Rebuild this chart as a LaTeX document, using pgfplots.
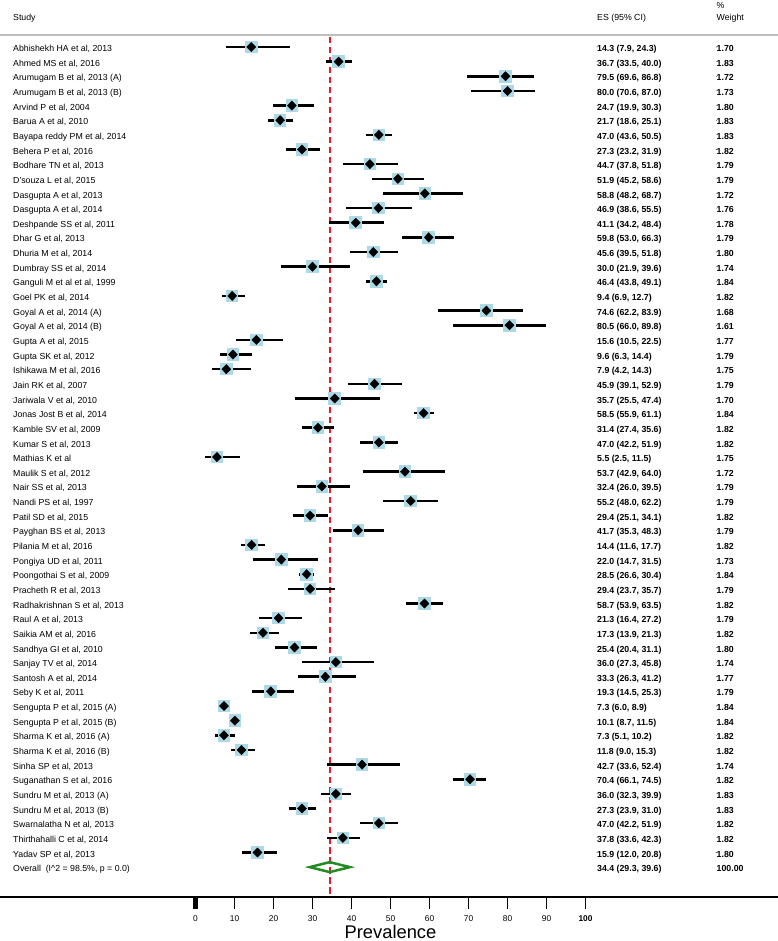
\documentclass[border=0pt]{standalone}
\usepackage{pgfplots}
\usepackage{pgfplotstable}
\pgfplotsset{compat=1.18}
\usepackage{fontspec}
\setmainfont{Liberation Sans}
\definecolor{boxblue}{RGB}{173,216,230}
\definecolor{refred}{RGB}{232,28,36}
\definecolor{ovgreen}{RGB}{34,139,34}
\newcommand{\txt}{\fontsize{8.8}{10}\selectfont}

\pgfplotstableread[col sep=semicolon]{
row;es;lo;hi;w;study
1;14.3;7.9;24.3;1.70;Abhishekh HA et al, 2013
2;36.7;33.5;40.0;1.83;Ahmed MS et al, 2016
3;79.5;69.6;86.8;1.72;Arumugam B et al, 2013 (A)
4;80.0;70.6;87.0;1.73;Arumugam B et al, 2013 (B)
5;24.7;19.9;30.3;1.80;Arvind P et al, 2004
6;21.7;18.6;25.1;1.83;Barua A et al, 2010
7;47.0;43.6;50.5;1.83;Bayapa reddy PM et al, 2014
8;27.3;23.2;31.9;1.82;Behera P et al, 2016
9;44.7;37.8;51.8;1.79;Bodhare TN et al, 2013
10;51.9;45.2;58.6;1.79;D'souza L et al, 2015
11;58.8;48.2;68.7;1.72;Dasgupta A et al, 2013
12;46.9;38.6;55.5;1.76;Dasgupta A et al, 2014
13;41.1;34.2;48.4;1.78;Deshpande SS et al, 2011
14;59.8;53.0;66.3;1.79;Dhar G et al, 2013
15;45.6;39.5;51.8;1.80;Dhuria M et al, 2014
16;30.0;21.9;39.6;1.74;Dumbray SS et al, 2014
17;46.4;43.8;49.1;1.84;Ganguli M et al et al, 1999
18;9.4;6.9;12.7;1.82;Goel PK et al, 2014
19;74.6;62.2;83.9;1.68;Goyal A et al, 2014 (A)
20;80.5;66.0;89.8;1.61;Goyal A et al, 2014 (B)
21;15.6;10.5;22.5;1.77;Gupta A et al, 2015
22;9.6;6.3;14.4;1.79;Gupta SK et al, 2012
23;7.9;4.2;14.3;1.75;Ishikawa M et al, 2016
24;45.9;39.1;52.9;1.79;Jain RK et al, 2007
25;35.7;25.5;47.4;1.70;Jariwala V et al, 2010
26;58.5;55.9;61.1;1.84;Jonas Jost B et al, 2014
27;31.4;27.4;35.6;1.82;Kamble SV et al, 2009
28;47.0;42.2;51.9;1.82;Kumar S et al, 2013
29;5.5;2.5;11.5;1.75;Mathias K et al
30;53.7;42.9;64.0;1.72;Maulik S et al, 2012
31;32.4;26.0;39.5;1.79;Nair SS et al, 2013
32;55.2;48.0;62.2;1.79;Nandi PS et al, 1997
33;29.4;25.1;34.1;1.82;Patil  SD et al, 2015
34;41.7;35.3;48.3;1.79;Payghan BS et al, 2013
35;14.4;11.6;17.7;1.82;Pilania M et al, 2016
36;22.0;14.7;31.5;1.73;Pongiya UD et al, 2011
37;28.5;26.6;30.4;1.84;Poongothai S et al, 2009
38;29.4;23.7;35.7;1.79;Pracheth R et al, 2013
39;58.7;53.9;63.5;1.82;Radhakrishnan S et al, 2013
40;21.3;16.4;27.2;1.79;Raul A et al, 2013
41;17.3;13.9;21.3;1.82;Saikia AM et al, 2016
42;25.4;20.4;31.1;1.80;Sandhya GI et al, 2010
43;36.0;27.3;45.8;1.74;Sanjay TV et al, 2014
44;33.3;26.3;41.2;1.77;Santosh A et al, 2014
45;19.3;14.5;25.3;1.79;Seby K et al, 2011
46;7.3;6.0;8.9;1.84;Sengupta P et al, 2015 (A)
47;10.1;8.7;11.5;1.84;Sengupta P et al, 2015 (B)
48;7.3;5.1;10.2;1.82;Sharma K et al, 2016 (A)
49;11.8;9.0;15.3;1.82;Sharma K et al, 2016 (B)
50;42.7;33.6;52.4;1.74;Sinha SP et al, 2013
51;70.4;66.1;74.5;1.82;Suganathan S et al, 2016
52;36.0;32.3;39.9;1.83;Sundru M et al, 2013 (A)
53;27.3;23.9;31.0;1.83;Sundru M et al, 2013 (B)
54;47.0;42.2;51.9;1.82;Swarnalatha N et al, 2013
55;37.8;33.6;42.3;1.82;Thirthahalli C et al, 2014
56;15.9;12.0;20.8;1.80;Yadav SP et al, 2013
}\studies

\begin{document}
\begin{tikzpicture}
\begin{axis}[
  scale only axis, width=778bp, height=897bp,
  xmin=-50.128, xmax=149.359, ymin=-59.04, ymax=2.2093,
  clip=false,
  axis x line=bottom, axis y line=none,
  axis line style={-, line width=2.2bp, black},
  xtick={10,20,...,100},
  xticklabels={10,20,30,40,50,60,70,80,90,\textbf{100}},
  extra x ticks={0}, extra x tick labels={0},
  extra x tick style={major tick style={line width=5.5bp, black}},
  tick align=outside, major tick length=12bp,
  major tick style={line width=1.8bp, black},
  xticklabel style={font=\fontsize{8.4}{9}\selectfont, text=black, yshift=-3bp},
  /pgf/number format/assume math mode=true,
]
% reference line
\addplot[refred, line width=2.2bp, dash pattern=on 6.5bp off 3.5bp] coordinates {(34.4,-0.317) (34.4,-59.04)};
% weight boxes
\addplot[only marks, draw=none, mark=square*, mark size=5.8bp, mark options={fill=boxblue, draw=boxblue, line width=0pt}]
  table[x=es, y expr=-\thisrow{row}] {\studies};
% confidence intervals (segments from lower to upper limit)
\addplot[black, line width=2.6bp, -, mark=none, quiver={u=\thisrow{hi}-\thisrow{lo}, v=0}]
  table[x=lo, y expr=-\thisrow{row}] {\studies};
% point estimates
\addplot[only marks, mark=diamond*, mark size=4.7bp, mark options={fill=black, draw=black, line width=0.3bp, xscale=1.3}]
  table[x=es, y expr=-\thisrow{row}] {\studies};
% study names
\addplot[only marks, mark=*, mark size=0.01bp, mark options={draw=none, fill=none},
  point meta=explicit symbolic, nodes near coords,
  nodes near coords style={anchor=base west, yshift=-4.6bp, inner sep=0pt, font=\txt, text=black}]
  table[x expr=-46.795, y expr=-\thisrow{row}, meta=study] {\studies};
% ES (95% CI)
\addplot[only marks, mark=*, mark size=0.01bp, mark options={draw=none, fill=none},
  visualization depends on={\thisrow{lo} \as \clo},
  visualization depends on={\thisrow{hi} \as \chi},
  point meta=\thisrow{es},
  nodes near coords={\pgfmathprintnumber{\pgfplotspointmeta} (\pgfmathprintnumber{\clo}, \pgfmathprintnumber{\chi})},
  nodes near coords style={anchor=base west, yshift=-4.6bp, inner sep=0pt, font=\txt\bfseries, text=black,
    /pgf/number format/fixed, /pgf/number format/fixed zerofill, /pgf/number format/precision=1}]
  table[x expr=102.95, y expr=-\thisrow{row}] {\studies};
% weights
\addplot[only marks, mark=*, mark size=0.01bp, mark options={draw=none, fill=none},
  point meta=\thisrow{w}, nodes near coords,
  nodes near coords style={anchor=base west, yshift=-4.6bp, inner sep=0pt, font=\txt\bfseries, text=black,
    /pgf/number format/fixed, /pgf/number format/fixed zerofill, /pgf/number format/precision=2}]
  table[x expr=133.59, y expr=-\thisrow{row}] {\studies};
% overall diamond
\addplot[ovgreen, line width=2.5bp, line join=miter] coordinates {(29.3,-57) (34.4,-56.659) (39.6,-57) (34.4,-57.341) (29.3,-57) (34.4,-56.659)};
% header
\draw[black!25, line width=2bp] (axis cs:-50.128,-0.1806) -- (axis cs:149.359,-0.1806);
\node[anchor=base west, inner sep=0pt, font=\txt] at (axis cs:-46.795,0.78) {Study};
\node[anchor=base west, inner sep=0pt, font=\txt] at (axis cs:102.95,0.78) {ES (95\% CI)};
\node[anchor=base west, inner sep=0pt, font=\txt] at (axis cs:133.59,1.62) {\%};
\node[anchor=base west, inner sep=0pt, font=\txt] at (axis cs:133.59,0.78) {Weight};
% overall row text
\node[anchor=base west, inner sep=0pt, yshift=-4.6bp, font=\txt] at (axis cs:-46.795,-57) {Overall\ \ (I\textasciicircum 2 = 98.5\%, p = 0.0)};
\node[anchor=base west, inner sep=0pt, yshift=-4.6bp, font=\txt\bfseries] at (axis cs:102.95,-57) {34.4 (29.3, 39.6)};
\node[anchor=base west, inner sep=0pt, yshift=-4.6bp, font=\txt\bfseries] at (axis cs:133.59,-57) {100.00};
% x label
\node[anchor=base, inner sep=0pt, font=\fontsize{18.4}{20}\selectfont] at (axis cs:50,-61.85) {Prevalence};
\coordinate (bbBL) at (axis cs:-50.128,-62.044);
\coordinate (bbTR) at (axis cs:149.359,2.2093);
\end{axis}
\pgfresetboundingbox
\useasboundingbox (bbBL) rectangle (bbTR);
\end{tikzpicture}
\end{document}
